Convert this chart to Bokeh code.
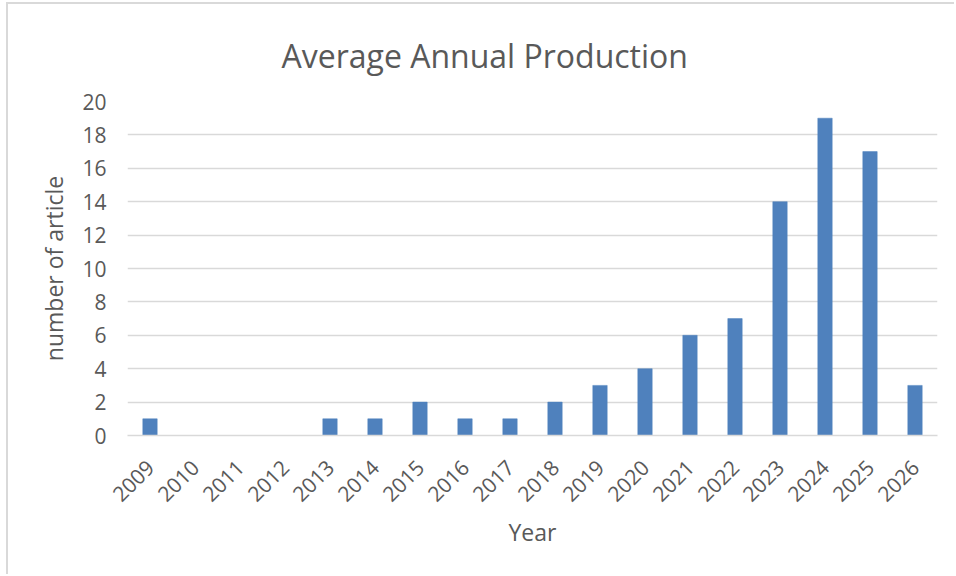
import math
from bokeh.plotting import figure
from bokeh.models import Range1d, FactorRange, Title
from bokeh.embed import file_html
from bokeh.resources import INLINE

years = ["2009", "2010", "2011", "2012", "2013", "2014", "2015", "2016", "2017",
         "2018", "2019", "2020", "2021", "2022", "2023", "2024", "2025", "2026"]
articles = [1, 0, 0, 0, 1, 1, 2, 1, 1, 2, 3, 4, 6, 7, 14, 19, 17, 3]
y_ticks = [0, 2, 4, 6, 8, 10, 12, 14, 16, 18, 20]

FONT = "Open Sans"
TEXT = "#595959"
GRID = "#d9d9d9"

p = figure(
    width=948, height=572,
    x_range=FactorRange(factors=years, range_padding=0),
    y_range=Range1d(0, 20),
    output_backend="svg", toolbar_location=None,
    min_border_left=119, min_border_right=19,
    min_border_top=97, min_border_bottom=141,
)
p.title = None

p.vbar(x=years, top=articles, width=0.32, fill_color="#4f81bd",
       line_color="#4f81bd", line_width=0.5)

p.outline_line_color = None
p.background_fill_color = "white"
p.border_fill_color = "white"

# grid
p.xgrid.grid_line_color = None
p.ygrid.grid_line_color = GRID
p.ygrid.grid_line_width = 1.5
p.yaxis.ticker = y_ticks

# axes
for ax in (p.xaxis[0], p.yaxis[0]):
    ax.major_tick_line_color = None
    ax.minor_tick_line_color = None
    ax.major_tick_out = 0
    ax.major_tick_in = 0
    ax.major_label_text_font = FONT
    ax.major_label_text_font_size = "21px"
    ax.major_label_text_color = TEXT
    ax.axis_label_text_font = FONT
    ax.axis_label_text_color = TEXT
    ax.axis_label_text_font_style = "normal"
    ax.axis_label_text_font_size = "23px"

p.yaxis.axis_line_color = None
p.xaxis.axis_line_color = GRID
p.xaxis.axis_line_width = 1.5
p.xaxis.major_label_orientation = math.pi / 4
p.xaxis.axis_label = "Year"
p.yaxis.axis_label = "number of article"
p.yaxis.major_label_standoff = 21
p.xaxis.major_label_standoff = 28
p.yaxis.axis_label_standoff = 9
p.xaxis.axis_label_standoff = 4

p.add_layout(Title(text="Average Annual Production", text_font=FONT,
                   text_font_size="32px", text_font_style="normal",
                   text_color=TEXT, align="left", offset=154, standoff=50), "above")

# the surrounding chart frame, seen along its top and left sides
p.styles = {"border-left": "2px solid #d9d9d9", "border-top": "2px solid #d9d9d9",
            "margin-left": "6px", "margin-top": "2px"}

html = file_html(p, INLINE, title="Average Annual Production")
with open("out.html", "w") as f:
    f.write(html)
